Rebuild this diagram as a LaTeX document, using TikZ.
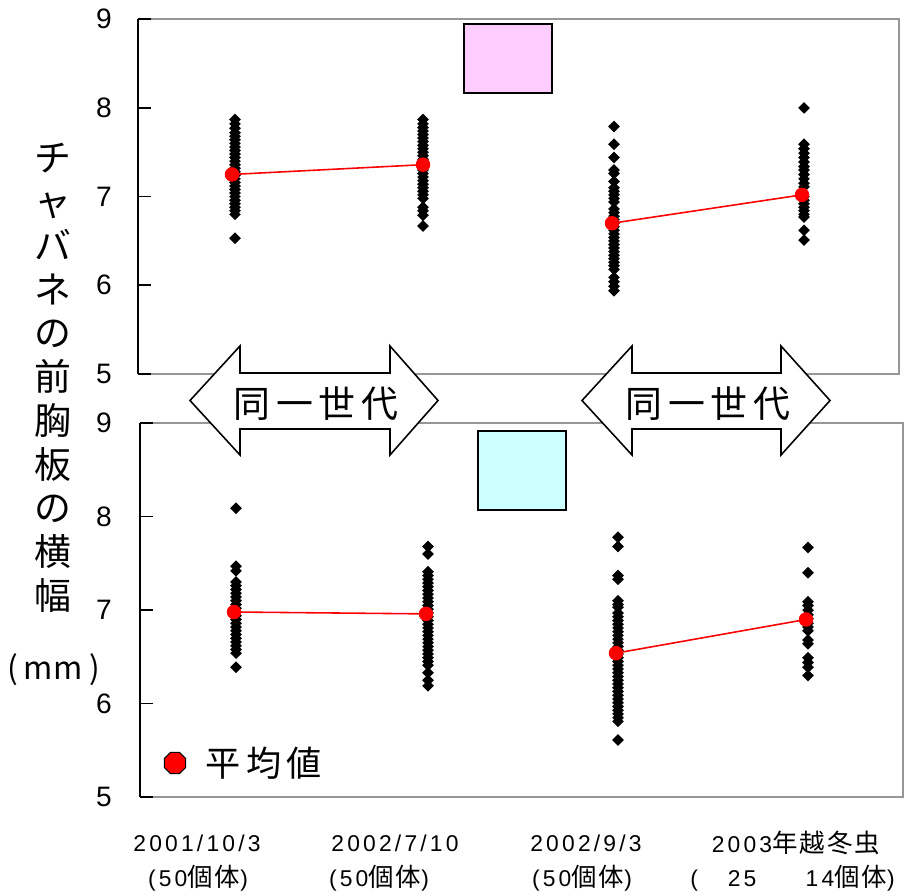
\documentclass[tikz,border=0pt]{standalone}
\usepackage{fontspec}
\usepackage{xcolor}
\usepackage{tikz}
\usetikzlibrary{shapes.geometric, positioning}
\setmainfont{Liberation Sans}
\newfontfamily\jp{Noto Sans CJK JP}
\newfontfamily\jpwide[LetterSpace=16]{Noto Sans CJK JP}
\newfontfamily\labfont[LetterSpace=14]{Liberation Sans}
\newfontfamily\labjp[LetterSpace=8]{Noto Sans CJK JP}
\definecolor{framegray}{RGB}{150,150,150}
\definecolor{keypink}{RGB}{255,204,255}
\definecolor{keycyan}{RGB}{204,255,255}
\newcommand{\kj}[1]{{\labjp\fontsize{14.5pt}{16pt}\selectfont #1}}

\begin{document}
\begin{tikzpicture}[x=0.02cm, y=-0.02cm,
  datapt/.style={diamond, fill=black, inner sep=0pt, minimum size=0.24cm},
  meanpt/.style={circle, fill=red, inner sep=0pt, minimum size=0.29cm},
  meanline/.style={red, line width=0.9pt},
  frame/.style={framegray, line width=1.1pt},
  axisline/.style={black, line width=1.1pt},
  ticklab/.style={font=\fontsize{16pt}{18pt}\selectfont, inner sep=0pt},
  genarrow/.style={draw=black, fill=white, line width=0.9pt, line join=miter},
  arrowtext/.style={font=\jpwide\fontsize{21pt}{24pt}\selectfont, inner sep=0pt},
  datelab/.style={font=\labfont\fontsize{13pt}{15pt}\selectfont, inner sep=0pt}]
\useasboundingbox (0,0) rectangle (915,895);

% Upper panel
\draw[frame] (151,19) -- (899,19) -- (899,374) -- (151,374);
\draw[axisline] (138,19) -- (138,374);
\foreach \yy/\lab in {19/9, 107.75/8, 196.5/7, 285.25/6, 374/5} {
  \draw[axisline] (138,\yy) -- (151,\yy);
  \node[ticklab] (tt\lab) at (104,\yy) {\lab};
}
\draw[fill=keypink, line width=0.8pt] (464,24) rectangle (552,93);

\begin{scope}[shift={(0,817.75)}, y=1.775cm]
\foreach \v [count=\i] in {7.87,7.82,7.77,7.72,7.68,7.64,7.6,7.56,7.52,7.48,7.44,7.4,7.36,7.32,7.28,7.24,7.2,7.16,7.12,7.08,7.04,7.0,6.96,6.92,6.88,6.84,6.8,6.53}
  \node[datapt] (ta\i) at (235,\v) {};
\foreach \v [count=\i] in {7.87,7.82,7.78,7.74,7.7,7.66,7.62,7.58,7.54,7.5,7.46,7.42,7.38,7.34,7.3,7.26,7.22,7.18,7.14,7.1,7.06,7.02,6.98,6.88,6.84,6.79,6.67}
  \node[datapt] (tb\i) at (423,\v) {};
\foreach \v [count=\i] in {7.79,7.59,7.44,7.3,7.26,7.17,7.1,7.06,7.02,6.98,6.94,6.86,6.82,6.78,6.74,6.7,6.66,6.62,6.58,6.54,6.5,6.46,6.42,6.38,6.34,6.3,6.26,6.22,6.18,6.09,6.04,5.99,5.94}
  \node[datapt] (tc\i) at (614,\v) {};
\foreach \v [count=\i] in {8.0,7.59,7.54,7.49,7.44,7.39,7.34,7.3,7.25,7.2,7.15,7.11,7.0,6.96,6.92,6.88,6.84,6.8,6.77,6.62,6.51}
  \node[datapt] (td\i) at (804,\v) {};
% means
\coordinate (tm1) at (232,7.25);
\coordinate (tm2) at (423,7.36);
\coordinate (tm3) at (612,6.70);
\coordinate (tm4) at (802,7.02);
\draw[meanline] (tm1) -- (tm2);
\draw[meanline] (tm3) -- (tm4);
\foreach \m in {tm1,tm2,tm3,tm4}
  \node[meanpt] (\m-dot) at (\m) {};
\end{scope}

% Lower panel
\draw[frame] (153,423) -- (903,423) -- (903,797) -- (153,797);
\draw[axisline] (140,423) -- (140,797);
\foreach \yy/\lab in {423/9, 516.5/8, 610/7, 703.5/6, 797/5} {
  \draw[axisline] (140,\yy) -- (153,\yy);
  \node[ticklab] (bt\lab) at (104,\yy) {\lab};
}
\draw[fill=keycyan, line width=0.8pt] (478,431) rectangle (566,510);

\begin{scope}[shift={(0,1264.5)}, y=1.87cm]
\foreach \v [count=\i] in {8.09,7.47,7.42,7.3,7.26,7.22,7.18,7.14,7.1,7.06,7.02,6.98,6.94,6.9,6.86,6.82,6.78,6.74,6.7,6.66,6.62,6.58,6.54,6.39}
  \node[datapt] (ba\i) at (236,\v) {};
\foreach \v [count=\i] in {7.68,7.6,7.41,7.37,7.33,7.29,7.25,7.21,7.17,7.13,7.09,7.05,7.01,6.97,6.93,6.89,6.85,6.81,6.77,6.73,6.69,6.65,6.61,6.57,6.53,6.49,6.45,6.41,6.33,6.25,6.19}
  \node[datapt] (bb\i) at (428,\v) {};
\foreach \v [count=\i] in {7.78,7.68,7.37,7.33,7.1,7.06,7.03,6.97,6.93,6.89,6.85,6.81,6.77,6.73,6.69,6.65,6.61,6.57,6.53,6.49,6.45,6.41,6.37,6.33,6.29,6.25,6.21,6.17,6.13,6.09,6.05,6.01,5.97,5.93,5.89,5.85,5.81,5.61}
  \node[datapt] (bc\i) at (618,\v) {};
\foreach \v [count=\i] in {7.67,7.4,7.09,7.05,7.0,6.95,6.91,6.86,6.82,6.78,6.68,6.64,6.49,6.44,6.39,6.3}
  \node[datapt] (bd\i) at (808,\v) {};
% means
\coordinate (bm1) at (234,6.98);
\coordinate (bm2) at (426,6.96);
\coordinate (bm3) at (616,6.54);
\coordinate (bm4) at (806,6.90);
\draw[meanline] (bm1) -- (bm2);
\draw[meanline] (bm3) -- (bm4);
\foreach \m in {bm1,bm2,bm3,bm4}
  \node[meanpt] (\m-dot) at (\m) {};
\end{scope}

% Same generation arrows
\draw[genarrow] (190,400.5) -- (240,346) -- (240,373) -- (390,373) -- (390,346) -- (438,400.5)
  -- (390,455) -- (390,429) -- (240,429) -- (240,455) -- cycle;
\node[arrowtext] (gen1) at (316,404) {同一世代};
\draw[genarrow] (582,400.5) -- (632,346) -- (632,373) -- (781,373) -- (781,346) -- (830,400.5)
  -- (781,455) -- (781,429) -- (632,429) -- (632,455) -- cycle;
\node[arrowtext] (gen2) at (708,404) {同一世代};

% Axis title
\node[font=\jp\fontsize{21pt}{24.9pt}\selectfont, align=center, inner sep=0pt] (ytitle) at (53,378)
  {チ\\ャ\\バ\\ネ\\の\\前\\胸\\板\\の\\横\\幅};
\node[font=\jp\fontsize{18pt}{20pt}\selectfont, inner sep=0pt] (yunit) at (54,670)
  {(\hspace{3pt}mm\hspace{4pt})};

% Legend
\node[regular polygon, regular polygon sides=8, draw=black, fill=red, line width=0.6pt,
  inner sep=0pt, minimum size=0.46cm] (legdot) at (175,763) {};
\node[font=\jpwide\fontsize{20pt}{24pt}\selectfont, inner sep=0pt, right=0.6cm of legdot.center,
  anchor=west] (legtext) {平均値};

% Dates
\node[datelab] (date1) at (197,843) {2001/10/3};
\node[datelab] (size1) at (198,878) {(50\kj{個体})};
\node[datelab] (date2) at (395,843) {2002/7/10};
\node[datelab] (size2) at (379,878) {(50\kj{個体})};
\node[datelab] (date3) at (586,843) {2002/9/3};
\node[datelab] (size3) at (582,878) {(50\kj{個体})};
\node[datelab] (date4) at (796,843) {2003\kj{年越冬虫}};
\node[datelab, anchor=west] (size4) at (690,878) {(\hspace{17pt}25\hspace{28pt}14\kj{個体})};
\end{tikzpicture}
\end{document}
